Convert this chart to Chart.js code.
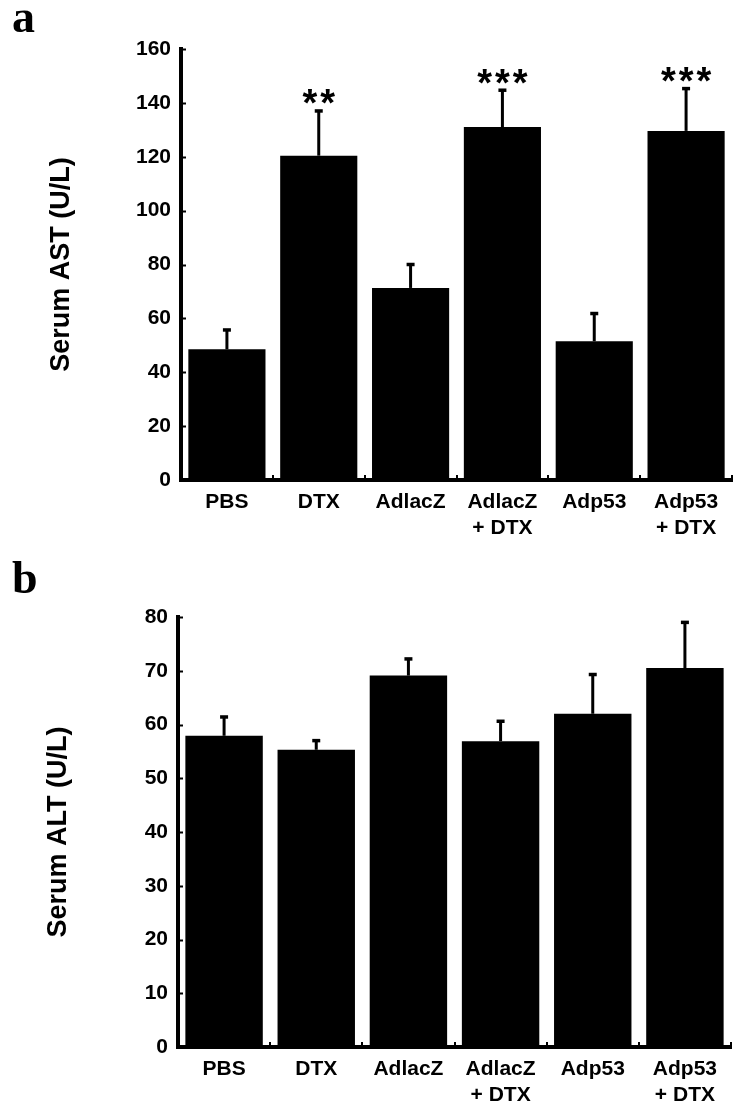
<!DOCTYPE html>
<html>
<head>
<meta charset="utf-8">
<script src="https://cdn.jsdelivr.net/npm/chart.js@4"></script>
<style>
  html, body { margin: 0; padding: 0; background: #fff; }
  canvas { position: absolute; left: 0; }
  #astChart { top: 0; }
  #altChart { top: 560px; }
</style>
</head>
<body>
<canvas id="astChart" width="738" height="560"></canvas>
<canvas id="altChart" width="738" height="556"></canvas>
<script>
// groups on the x axis
var groups = ['PBS', 'DTX', 'AdlacZ', ['AdlacZ', '+ DTX'], 'Adp53', ['Adp53', '+ DTX']];

// serum AST (U/L), mean and upper error
var astMean = [48.5, 120.4, 71.3, 131.0, 51.5, 129.6];
var astSem = [7.2, 16.6, 8.7, 13.7, 10.3, 15.7];
var astStars = ['', '**', '', '***', '', '***'];

// serum ALT (U/L), mean and upper error
var altMean = [57.9, 55.3, 69.1, 56.9, 62.0, 70.5];
var altSem = [3.5, 1.7, 3.1, 3.7, 7.3, 8.5];
var altStars = ['', '', '', '', '', ''];

var sansFont = "'Liberation Sans', Arial, sans-serif";

// draws error bars, stars, little inner ticks and the panel letter
var extrasPlugin = {
  id: 'extras',
  afterDatasetsDraw: function(chart) {
    var o = chart.options.plugins.extras;
    var ctx = chart.ctx;
    var y = chart.scales.y;
    var meta = chart.getDatasetMeta(0);
    var area = chart.chartArea;
    ctx.save();
    ctx.strokeStyle = '#000';
    ctx.fillStyle = '#000';

    // inner tick marks on the y axis
    ctx.lineWidth = 2;
    y.ticks.forEach(function(t) {
      var py = Math.round(y.getPixelForValue(t.value)) + 0.5;
      ctx.beginPath();
      ctx.moveTo(area.left, py);
      ctx.lineTo(area.left + 5, py);
      ctx.stroke();
    });
    // inner tick marks on the x axis, between groups
    var step = (area.right - area.left) / groups.length;
    for (var k = 1; k <= groups.length; k++) {
      var px = Math.round(area.left + step * k);
      ctx.beginPath();
      ctx.moveTo(px, area.bottom);
      ctx.lineTo(px, area.bottom - 5);
      ctx.stroke();
    }

    meta.data.forEach(function(bar, i) {
      var top = o.mean[i] + o.sem[i];
      var yBar = y.getPixelForValue(o.mean[i]);
      var yTop = y.getPixelForValue(top);
      ctx.lineWidth = 3;
      ctx.beginPath();
      ctx.moveTo(bar.x, yBar);
      ctx.lineTo(bar.x, yTop);
      ctx.stroke();
      ctx.lineWidth = 3.5;
      ctx.beginPath();
      ctx.moveTo(bar.x - 4, yTop);
      ctx.lineTo(bar.x + 4, yTop);
      ctx.stroke();

      if (o.stars[i]) {
        ctx.font = 'bold 38px ' + sansFont;
        ctx.letterSpacing = '3px';
        ctx.textAlign = 'center';
        ctx.textBaseline = 'alphabetic';
        var m = ctx.measureText(o.stars[i]);
        var mid = (m.actualBoundingBoxAscent - m.actualBoundingBoxDescent) / 2;
        ctx.fillText(o.stars[i], bar.x + 1.5, yTop - 14 + mid);
        ctx.letterSpacing = '0px';
      }
    });

    ctx.font = 'bold 46px "Liberation Serif", "Times New Roman", serif';
    ctx.textAlign = 'left';
    ctx.textBaseline = 'alphabetic';
    ctx.fillText(o.letter, o.letterX, o.letterY);
    ctx.restore();
  }
};

function makeChart(id, mean, sem, stars, max, stepSize, title, letter, letterY, opts) {
  return new Chart(document.getElementById(id), {
    type: 'bar',
    data: {
      labels: groups,
      datasets: [{
        data: mean,
        backgroundColor: '#000',
        borderWidth: 0,
        barPercentage: 0.84,
        categoryPercentage: 1.0
      }]
    },
    options: {
      responsive: false,
      animation: false,
      layout: { padding: { top: opts.top, right: opts.right, left: 0, bottom: 0 } },
      plugins: {
        legend: { display: false },
        tooltip: { enabled: false },
        extras: { mean: mean, sem: sem, stars: stars, letter: letter, letterX: 12, letterY: letterY }
      },
      scales: {
        x: {
          grid: { display: false, drawTicks: false },
          border: { display: true, color: '#000', width: 4 },
          ticks: {
            color: '#000',
            padding: 9,
            maxRotation: 0,
            autoSkip: false,
            font: { family: sansFont, weight: 'bold', size: 21, lineHeight: 1.25 }
          },
          afterFit: function(scale) { scale.height = opts.xHeight; }
        },
        y: {
          min: 0,
          max: max,
          grid: { display: false, drawTicks: false },
          border: { display: true, color: '#000', width: 4 },
          ticks: {
            stepSize: stepSize,
            color: '#000',
            padding: 10,
            font: { family: sansFont, weight: 'bold', size: 21 }
          },
          title: {
            display: true,
            text: title,
            color: '#000',
            padding: { top: opts.titlePad, bottom: 0 },
            font: { family: sansFont, weight: 'bold', size: 27 }
          },
          afterFit: function(scale) { scale.width = opts.yWidth; }
        }
      }
    },
    plugins: [extrasPlugin]
  });
}

makeChart('astChart', astMean, astSem, astStars, 160, 20, 'Serum AST (U/L)', 'a', 32,
  { top: 49, right: 6, xHeight: 80, yWidth: 181, titlePad: 45 });
makeChart('altChart', altMean, altSem, altStars, 80, 10, 'Serum ALT (U/L)', 'b', 33,
  { top: 57, right: 7, xHeight: 69, yWidth: 178, titlePad: 42 });
</script>
</body>
</html>
